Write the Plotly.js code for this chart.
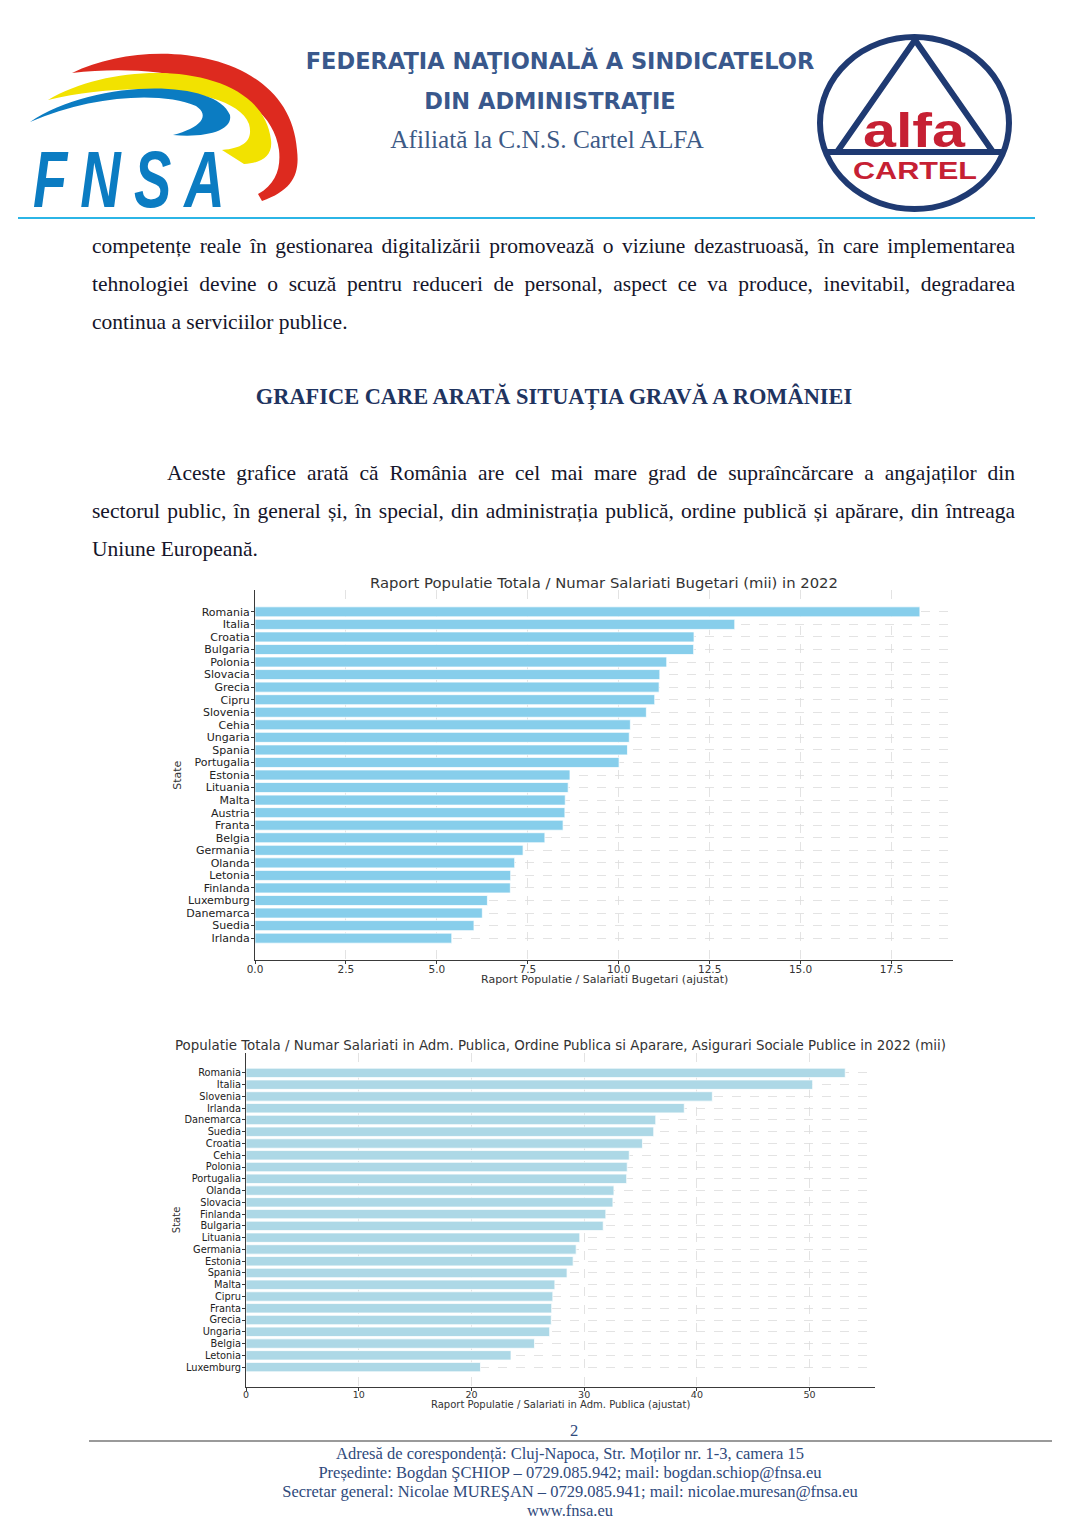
<!DOCTYPE html>
<html>
<head>
<meta charset="utf-8">
<script src="https://cdn.plot.ly/plotly-3.0.1.min.js"></script>
<style>
  html, body { margin: 0; padding: 0; background: #fff; }
  #page { position: relative; width: 1078px; height: 1524px; overflow: hidden; }
  .abs { position: absolute; white-space: nowrap; }
  .hdr { font-family: "DejaVu Sans", sans-serif; font-weight: bold; color: #39588c; font-size: 22.5px; line-height: 26px; transform: translateX(-50%); }
  .body { font-family: "Liberation Serif", serif; font-size: 21.5px; line-height: 38px; color: #15152a; left: 92px; width: 923px; }
  .just { text-align: justify; text-align-last: justify; white-space: normal; }
  .foot { font-family: "Liberation Serif", serif; font-size: 16.5px; line-height: 19px; color: #2f4a7c; left: 570px; transform: translateX(-50%); }
  .chart { position: absolute; }
</style>
</head>
<body>
<div id="page">
  <!-- sigla FNSA -->
  <svg class="abs" style="left:0;top:0" width="320" height="230">
    <path d="M72 73 C150 35 290 50 297 150 C300 175 292 190 262 201 L258 194 C276 184 281 168 279 150 C270 82 160 62 72 73 Z" fill="#dd2a1f"/>
    <path d="M48 100 C120 57 262 62 271 140 C273 156 262 163 244 164 L222 150 C246 148 253 139 249 124 C236 88 130 80 48 100 Z" fill="#f2e200"/>
    <path d="M30 122 C90 80 215 77 230 115 C233 131 205 138 173 135 C200 128 211 116 196 106 C160 91 90 96 30 122 Z" fill="#0b7cc2"/>
    <text transform="translate(33,207) scale(0.7,1)" font-family="Liberation Sans" font-style="italic" font-weight="bold" font-size="80" fill="#0b7cc2" textLength="274" lengthAdjust="spacing">FNSA</text>
  </svg>
  <!-- sigla alfa CARTEL -->
  <svg class="abs" style="left:800px;top:20px" width="230" height="205">
    <ellipse cx="114.5" cy="103" rx="94.5" ry="86" fill="none" stroke="#1f3a72" stroke-width="6"/>
    <path d="M115 20 L37 132 M115 20 L193 132 M24 132 L205 132" stroke="#1f3a72" stroke-width="6" fill="none" stroke-linejoin="round"/>
    <text x="63" y="127" font-family="Liberation Sans" font-weight="bold" font-size="48" fill="#c62033" textLength="102" lengthAdjust="spacingAndGlyphs">alfa</text>
    <text x="53" y="159" font-family="Liberation Sans" font-weight="bold" font-size="23" fill="#c62033" textLength="124" lengthAdjust="spacingAndGlyphs">CARTEL</text>
  </svg>

  <div class="abs hdr" style="left:560px;top:48px">FEDERAŢIA NAŢIONALĂ A SINDICATELOR</div>
  <div class="abs hdr" style="left:550px;top:88px">DIN ADMINISTRAŢIE</div>
  <div class="abs" style="left:547px;top:124px;transform:translateX(-50%);font-family:'Liberation Serif',serif;font-size:25.3px;line-height:30px;color:#3d5a86">Afiliată la C.N.S. Cartel ALFA</div>
  <div class="abs" style="left:18px;top:217px;width:1017px;height:1.5px;background:#2bb5e6"></div>

  <div class="abs body just" style="top:227px">competențe reale în gestionarea digitalizării promovează o viziune dezastruoasă, în care implementarea</div>
  <div class="abs body just" style="top:265px">tehnologiei devine o scuză pentru reduceri de personal, aspect ce va produce, inevitabil, degradarea</div>
  <div class="abs body" style="top:303px">continua a serviciilor publice.</div>

  <div class="abs" style="left:554px;top:378px;transform:translateX(-50%);font-family:'Liberation Serif',serif;font-weight:bold;font-size:22.4px;line-height:38px;color:#1f3460">GRAFICE CARE ARATĂ SITUAȚIA GRAVĂ A ROMÂNIEI</div>

  <div class="abs body just" style="top:454px;left:167px;width:848px">Aceste grafice arată că România are cel mai mare grad de supraîncărcare a angajaților din</div>
  <div class="abs body just" style="top:492px">sectorul public, în general și, în special, din administrația publică, ordine publică și apărare, din întreaga</div>
  <div class="abs body" style="top:530px">Uniune Europeană.</div>

  <div id="chart1" class="chart" style="left:160px;top:570px;width:810px;height:420px"></div>
  <div id="chart2" class="chart" style="left:160px;top:1030px;width:810px;height:390px"></div>

  <div class="abs foot" style="left:574px;top:1421px">2</div>
  <div class="abs" style="left:89px;top:1440px;width:963px;height:2px;background:#9a9a9a"></div>
  <div class="abs foot" style="top:1444px">Adresă de corespondență: Cluj-Napoca, Str. Moților nr. 1-3, camera 15</div>
  <div class="abs foot" style="top:1463px">Președinte: Bogdan ŞCHIOP – 0729.085.942; mail: bogdan.schiop@fnsa.eu</div>
  <div class="abs foot" style="top:1482px">Secretar general: Nicolae MUREŞAN – 0729.085.941; mail: nicolae.muresan@fnsa.eu</div>
  <div class="abs foot" style="top:1501px">www.fnsa.eu</div>
</div>

<script>
// grafic 1: raport populatie / salariati bugetari
const states1 = ['Romania', 'Italia', 'Croatia', 'Bulgaria', 'Polonia', 'Slovacia', 'Grecia', 'Cipru', 'Slovenia', 'Cehia', 'Ungaria', 'Spania', 'Portugalia', 'Estonia', 'Lituania', 'Malta', 'Austria', 'Franta', 'Belgia', 'Germania', 'Olanda', 'Letonia', 'Finlanda', 'Luxemburg', 'Danemarca', 'Suedia', 'Irlanda'];
const ratio1 = [18.28, 13.19, 12.07, 12.06, 11.32, 11.13, 11.11, 10.99, 10.76, 10.32, 10.29, 10.24, 10.01, 8.66, 8.61, 8.53, 8.52, 8.47, 7.97, 7.37, 7.14, 7.03, 7.02, 6.39, 6.25, 6.02, 5.41];

// grafic 2: raport populatie / salariati in adm. publica
const states2 = ['Romania', 'Italia', 'Slovenia', 'Irlanda', 'Danemarca', 'Suedia', 'Croatia', 'Cehia', 'Polonia', 'Portugalia', 'Olanda', 'Slovacia', 'Finlanda', 'Bulgaria', 'Lituania', 'Germania', 'Estonia', 'Spania', 'Malta', 'Cipru', 'Franta', 'Grecia', 'Ungaria', 'Belgia', 'Letonia', 'Luxemburg'];
const ratio2 = [53.16, 50.27, 41.37, 38.88, 36.35, 36.17, 35.17, 34.0, 33.82, 33.77, 32.64, 32.55, 31.92, 31.69, 29.61, 29.29, 29.02, 28.48, 27.4, 27.22, 27.12, 27.08, 26.94, 25.59, 23.51, 20.8];

const font = 'DejaVu Sans, sans-serif';
const config = { displayModeBar: false, staticPlot: true };

function gridAxis(extra) {
  return {
    showline: true, linecolor: '#3a3a3a', linewidth: 1,
    showgrid: true, gridcolor: '#dcdcdc', griddash: 'dash', gridwidth: 0.8,
    zeroline: false, ticks: 'outside', ticklen: 3, tickcolor: '#3a3a3a',
    fixedrange: true, ...extra
  };
}

function barChart(id, states, values, opts) {
  const n = states.length;
  const pad = (n - 0.2) * 0.05 + 0.4;
  const trace = {
    type: 'bar', orientation: 'h',
    x: values, y: states,
    marker: { color: opts.color, line: { color: 'rgba(255,255,255,0.75)', width: 1 } },
    hoverinfo: 'skip'
  };
  const layout = {
    width: opts.width, height: opts.height,
    margin: opts.margin,
    paper_bgcolor: '#fff', plot_bgcolor: '#fff',
    bargap: 0.2, showlegend: false,
    font: { family: font, color: '#333' },
    xaxis: gridAxis({
      range: [0, opts.xmax], dtick: opts.dtick, tick0: 0, tickformat: opts.tickformat,
      ticklen: 2.5, ticklabelstandoff: opts.xStandoff,
      tickfont: { size: opts.tickSize, color: '#333' }
    }),
    yaxis: gridAxis({
      type: 'category', range: [n - 1 + pad, -pad], dtick: 1, ticklabelstandoff: -1,
      tickfont: { size: opts.labelSize, color: '#222' }
    }),
    annotations: [
      { text: opts.title, xref: 'paper', yref: 'paper', x: 0.5, y: 1, yshift: opts.titleShift,
        xanchor: 'center', yanchor: 'middle',
        showarrow: false, font: { size: opts.titleSize, color: '#333' } },
      { text: opts.xtitle, xref: 'paper', yref: 'paper', x: 0.5, y: 0, yshift: opts.xtitleShift,
        xanchor: 'center', yanchor: 'middle',
        showarrow: false, font: { size: opts.xtitleSize, color: '#333' } },
      { text: 'State', xref: 'paper', yref: 'paper', x: opts.stateX, y: 0.5, textangle: -90,
        xanchor: 'center', yanchor: 'middle',
        showarrow: false, font: { size: opts.xtitleSize, color: '#333' } }
    ]
  };
  Plotly.newPlot(id, [trace], layout, config);
}

barChart('chart1', states1, ratio1, {
  color: '#87CEEB', width: 810, height: 420,
  margin: { l: 95, r: 17, t: 20, b: 30 },
  xmax: 19.19, dtick: 2.5, tickformat: '.1f', tickSize: 10.5, labelSize: 11, xStandoff: -3,
  title: 'Raport Populatie Totala / Numar Salariati Bugetari (mii) in 2022', titleSize: 14.8, titleShift: 8,
  xtitle: 'Raport Populatie / Salariati Bugetari (ajustat)', xtitleSize: 11, xtitleShift: -19,
  stateX: -0.112
});

barChart('chart2', states2, ratio2, {
  color: '#ADD8E6', width: 810, height: 390,
  margin: { l: 86, r: 95, t: 23, b: 33 },
  xmax: 55.8, dtick: 10, tickformat: 'd', tickSize: 9.5, labelSize: 9.8, xStandoff: -4,
  title: 'Populatie Totala / Numar Salariati in Adm. Publica, Ordine Publica si Aparare, Asigurari Sociale Publice in 2022 (mii)', titleSize: 13.4, titleShift: 8,
  xtitle: 'Raport Populatie / Salariati in Adm. Publica (ajustat)', xtitleSize: 10, xtitleShift: -17,
  stateX: -0.111
});
</script>
</body>
</html>
